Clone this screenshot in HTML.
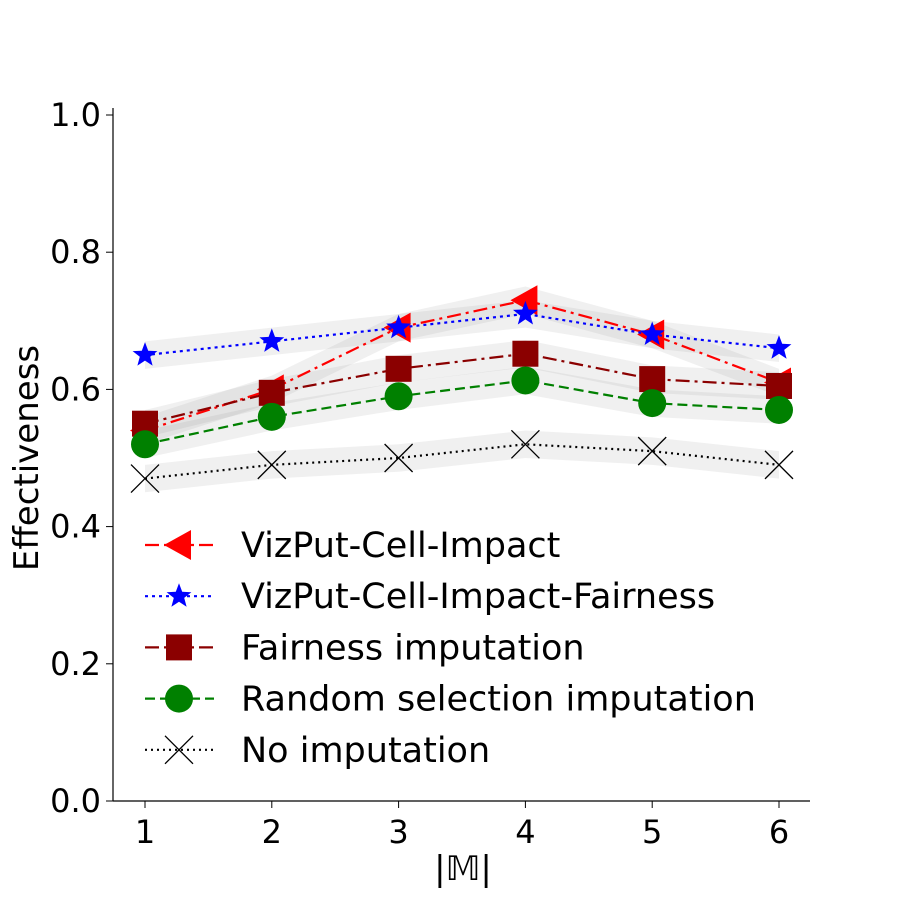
<!DOCTYPE html>
<html><head><meta charset="utf-8"><style>body{margin:0;background:#fff}svg{display:block;font-family:"DejaVu Sans","Liberation Sans",sans-serif}</style></head>
<body>
<svg id="c" width="900" height="900"></svg>
<script>
const categories=[1,2,3,4,5,6];
const impact=[0.54,0.60,0.69,0.73,0.68,0.61];
const impactFair=[0.65,0.67,0.69,0.71,0.68,0.66];
const fairImp=[0.55,0.595,0.63,0.652,0.615,0.605];
const randImp=[0.52,0.56,0.59,0.613,0.58,0.57];
const noImp=[0.47,0.49,0.50,0.52,0.51,0.49];
const yTicks=[0.0,0.2,0.4,0.6,0.8,1.0];
const yTickLabels=["0.0","0.2","0.4","0.6","0.8","1.0"];
const seriesNames=["VizPut-Cell-Impact","VizPut-Cell-Impact-Fairness","Fairness imputation","Random selection imputation","No imputation"];

const NS="http://www.w3.org/2000/svg",svg=document.getElementById('c');
const X=v=>145+(v-1)*126.8, Y=v=>801-v*686;
function el(t,a,p){const e=document.createElementNS(NS,t);for(const k in a)e.setAttribute(k,a[k]);(p||svg).appendChild(e);return e;}
const series=[
 {d:impact,c:"#ff0000",dash:"14,5,3,5",m:"tri",name:"series-vizput-cell-impact"},
 {d:impactFair,c:"#0000ff",dash:"3,4",m:"star",name:"series-vizput-cell-impact-fairness"},
 {d:fairImp,c:"#8b0000",dash:"14,5,3,5",m:"sq",name:"series-fairness-imputation"},
 {d:randImp,c:"#008000",dash:"10,5",m:"circ",name:"series-random-selection-imputation"},
 {d:noImp,c:"#000000",dash:"2,4",m:"x",name:"series-no-imputation"}];
series.forEach(s=>{
 const up=s.d.map((v,i)=>X(categories[i])+","+Y(v+0.02)).join(" ");
 const lo=s.d.map((v,i)=>X(categories[i])+","+Y(v-0.02)).reverse().join(" ");
 const b=el('polygon',{points:up+" "+lo,fill:"#888",opacity:"0.13"});
 
 
});
function marker(type,x,y,c,g){
 let e;
 if(type=="tri")e=el('polygon',{points:`${x-15},${y} ${x+12},${y-15} ${x+12},${y+15}`,fill:c},g);
 else if(type=="star"){let p=[];for(let i=0;i<10;i++){const r=i%2?5.5:13,a=-Math.PI/2+i*Math.PI/5;p.push((x+r*Math.cos(a)).toFixed(1)+","+(y+r*Math.sin(a)).toFixed(1));}e=el('polygon',{points:p.join(" "),fill:c},g);}
 else if(type=="sq")e=el('rect',{x:x-13,y:y-13,width:26,height:26,fill:c},g);
 else if(type=="circ")e=el('circle',{cx:x,cy:y,r:14,fill:c},g);
 else e=el('path',{d:`M${x-14},${y-14}L${x+14},${y+14}M${x-14},${y+14}L${x+14},${y-14}`,stroke:c,"stroke-width":1.3,fill:"none"},g);
 return e;
}
series.forEach(s=>{
 const g=el('g',{});
 
 
 el('polyline',{points:s.d.map((v,i)=>X(categories[i])+","+Y(v)).join(" "),fill:"none",stroke:s.c,"stroke-width":2.2,"stroke-dasharray":s.dash},g);
 s.d.forEach((v,i)=>{const m=marker(s.m,X(categories[i]),Y(v),s.c,g);
  
  });
});
el('line',{x1:113,y1:801,x2:810,y2:801,stroke:"#000","stroke-width":1.2});
el('line',{x1:113,y1:108,x2:113,y2:801,stroke:"#000","stroke-width":1.2});
yTicks.forEach((v,i)=>{el('line',{x1:106,x2:113,y1:Y(v),y2:Y(v),stroke:"#000"});
 const t=el('text',{x:101,y:Y(v)+11,"text-anchor":"end","font-size":32});t.textContent=yTickLabels[i];
 
 });
categories.forEach(c=>{el('line',{x1:X(c),x2:X(c),y1:801,y2:808,stroke:"#000"});
 const t=el('text',{x:X(c),y:843,"text-anchor":"middle","font-size":32});t.textContent=c;
 
 });
const yl=el('text',{x:0,y:0,transform:"translate(38,458) rotate(-90)","text-anchor":"middle","font-size":34});yl.textContent="Effectiveness";


const xl=el('text',{x:463,y:880,"text-anchor":"middle","font-size":34});xl.textContent="|𝕄|";


series.forEach((s,i)=>{const y=545+i*51.2;const g=el('g',{});
 
 
 el('line',{x1:145,x2:214,y1:y,y2:y,stroke:s.c,"stroke-width":2.2,"stroke-dasharray":s.dash},g);
 marker(s.m,179,y,s.c,g);
 const t=el('text',{x:241,y:y+12,"font-size":35},g);t.textContent=seriesNames[i];});
</script>
</body></html>
